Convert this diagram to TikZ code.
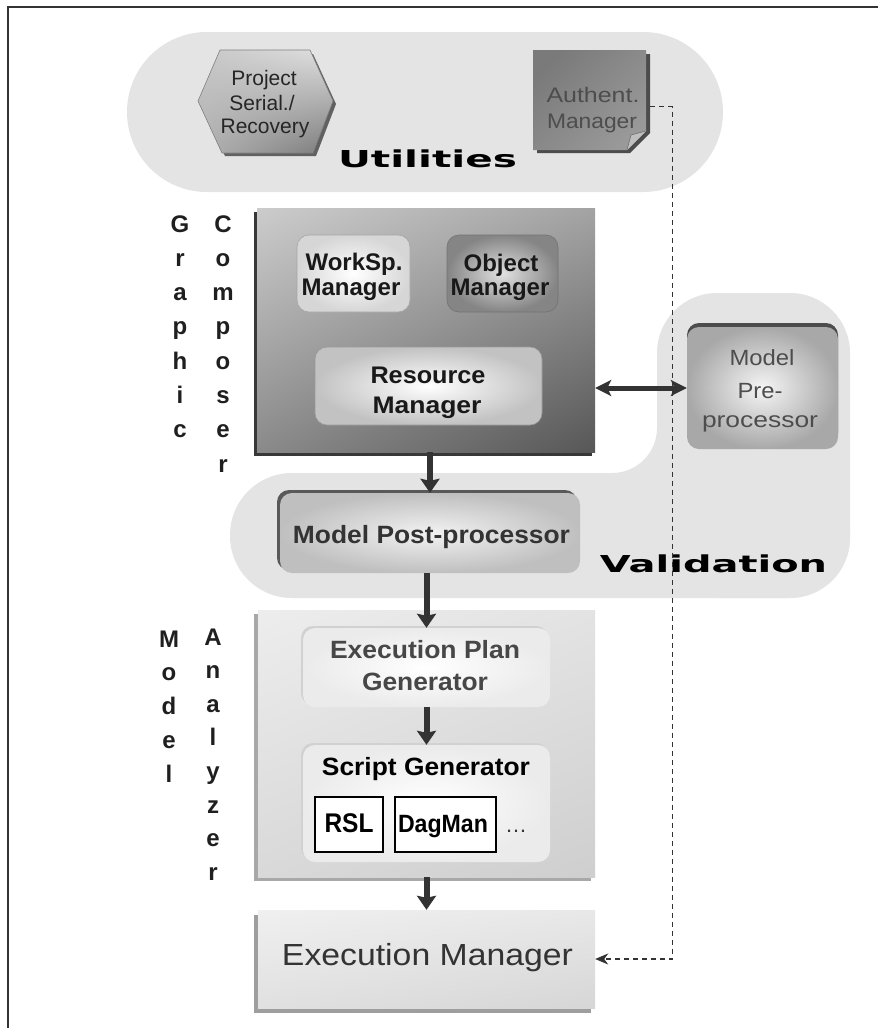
\documentclass[tikz,border=0pt]{standalone}
\usepackage{fontspec}
\setmainfont{Liberation Sans}
\newfontfamily\heavyfont{DejaVu Sans}
\usepackage{graphicx}
\usetikzlibrary{arrows.meta,shadows,shadings}

\definecolor{ink}{HTML}{333333}
\definecolor{band}{HTML}{E4E4E4}
\definecolor{softtext}{HTML}{4D4D4D}

% stretch a piece of text to a given width, keeping its height
\newcommand\wfit[2]{\resizebox{#1pt}{\height}{#2}}

\tikzset{
  txt/.style={inner sep=0pt, anchor=base},
  reg21/.style={txt, font=\fontsize{21pt}{24pt}\selectfont},
  reg22/.style={txt, font=\fontsize{22pt}{24pt}\selectfont, text=softtext},
  bold24/.style={txt, font=\fontsize{24pt}{24pt}\selectfont\bfseries, text=black!90},
  bold25/.style={txt, font=\fontsize{25pt}{25pt}\selectfont\bfseries},
  heavy/.style={txt, font=\heavyfont\fontsize{23.3pt}{24pt}\selectfont\bfseries, text=black},
  glyph/.style={txt, font=\fontsize{24pt}{24pt}\selectfont\bfseries, text=black!88},
  slot/.style={rectangle, inner sep=0pt},
  softbox/.style={slot, rounded corners=12pt, shade},
  flow/.style={draw=ink, line width=6pt, -{Stealth[length=14pt,width=19pt,inset=2pt]}},
  twoway/.style={draw=ink, line width=5pt, {Stealth[length=16pt,width=16pt,inset=4pt]}-{Stealth[length=16pt,width=16pt,inset=4pt]}},
  dashedlink/.style={draw=ink, line width=1.1pt, dash pattern=on 5pt off 4pt, -{Stealth[length=13pt,width=11pt,inset=4pt]}},
}

\begin{document}
\begin{tikzpicture}[x=1pt,y=-1pt]
\useasboundingbox (0,0) rectangle (878,1028);
\fill[white] (0,0) rectangle (878,1028);

% outer frame
\draw[ink, line width=2pt] (8,1028) -- (8,7) -- (878,7);

% ---------- background bands ----------
\fill[band, rounded corners=80pt] (127,32) rectangle (723,192);
\fill[band, rounded corners=62pt] (230,473) rectangle (850,598);
\fill[band, rounded corners=60pt] (657,293) rectangle (850,598);
\fill[band] (612,473) -- (657,473) -- (657,428) .. controls (657,453) and (637,473) .. (612,473) -- cycle;

% ---------- Utilities ----------
% hexagon
\fill[black!62] (201,104) -- (223,54) -- (313,54) -- (336,104) -- (316,156) -- (225,156) -- cycle;
\shade[upper left=black!22, upper right=black!12, lower left=black!30, lower right=black!52]
  (198,101) -- (220,50) -- (310,50) -- (333,101) -- (313,153) -- (222,153) -- cycle;
\draw[black!50, line width=0.6pt]
  (198,101) -- (220,50) -- (310,50) -- (333,101) -- (313,153) -- (222,153) -- cycle;
\node[reg21, text=black!85] (hexA) at (264,85) {Project};
\node[reg21, text=black!85] (hexB) at (262,110) {Serial./};
\node[reg21, text=black!85] (hexC) at (265,133) {Recovery};

% authentication sheet
\node[slot, minimum width=117pt, minimum height=103pt] (auth) at (591.5,101.5) {};
\fill[black!70] (537,54) -- (650,54) -- (650,133) -- (630,153) -- (537,153) -- cycle;
\shade[top color=black!52, middle color=black!17, bottom color=black!40, shading angle=45]
  (533,50) -- (646,50) -- (646,131) -- (627,150) -- (533,150) -- cycle;
\fill[black!25] (646,131) -- (627,150) -- (631,135) -- cycle;
\draw[black!60, line width=0.5pt] (646,131) -- (631,135) -- (627,150);
\node[reg21, text=softtext] (authA) at (593,102) {\wfit{93}{Authent.}};
\node[reg21, text=softtext] (authB) at (592,128) {\wfit{90}{Manager}};

\node[heavy] (utilities) at (427.5,167) {\wfit{179}{Utilities}};

% ---------- Graphic Composer ----------
\node[slot, shade, upper left=black!20, upper right=black!36, lower left=black!46, lower right=black!66,
      minimum width=338pt, minimum height=244pt,
      drop shadow={shadow xshift=-3pt, shadow yshift=-4pt, fill=black!78, opacity=1}] (comp) at (426,330) {};

\node[softbox, inner color=white, outer color=black!16, draw=black!35, line width=0.6pt,
      minimum width=113pt, minimum height=77pt] (ws) at (353.5,273.5) {};
\node[softbox, inner color=black!12, outer color=black!48, draw=black!55, line width=0.6pt,
      minimum width=111pt, minimum height=77pt] (obj) at (502.5,273.5) {};
\node[softbox, inner color=white, outer color=black!24, draw=black!40, line width=0.6pt,
      minimum width=227pt, minimum height=78pt] (res) at (428.5,386) {};

\node[bold24] (wsA) at (354,270) {WorkSp.};
\node[bold24] (wsB) at (351,295) {Manager};
\node[bold24] (objA) at (501,271) {Object};
\node[bold24] (objB) at (500,295) {Manager};
\node[bold24] (resA) at (428,383) {\wfit{115}{Resource}};
\node[bold24] (resB) at (427,413) {\wfit{109}{Manager}};

\foreach \ch [count=\k from 0] in {G,r,a,p,h,i,c}
  \node[glyph] (graphic\k) at (180,{232+34.3*\k}) {\ch};
\foreach \ch [count=\k from 0] in {C,o,m,p,o,s,e,r}
  \node[glyph] (composer\k) at (223,{232+34.3*\k}) {\ch};

% ---------- Validation ----------
\node[softbox, inner color=black!4, outer color=black!34,
      drop shadow={shadow xshift=0pt, shadow yshift=4pt, fill=black!70, opacity=1},
      minimum width=151pt, minimum height=122pt] (pre) at (762.5,388) {};
\node[reg22] (preA) at (762,365) {\wfit{65}{Model}};
\node[reg22] (preB) at (760,398) {\wfit{45}{Pre-}};
\node[reg22] (preC) at (760,427) {\wfit{116}{processor}};

\node[softbox, inner color=black!5, outer color=black!25,
      drop shadow={shadow xshift=-3pt, shadow yshift=3pt, fill=black!65, opacity=1},
      minimum width=300pt, minimum height=80pt] (post) at (430,533) {};
\node[bold25, text=ink] (postA) at (431.5,543) {\wfit{277}{Model Post-processor}};

\node[heavy] (validation) at (713.5,572) {\wfit{227}{Validation}};

% ---------- Model Analyzer ----------
\node[slot, shade, upper left=black!7, upper right=black!11, lower left=black!15, lower right=black!19,
      minimum width=337pt, minimum height=267pt,
      drop shadow={shadow xshift=-4pt, shadow yshift=-4pt, fill=black!34, opacity=1}] (ana) at (426.5,743.5) {};

\node[softbox, inner color=white, outer color=black!8,
      drop shadow={shadow xshift=-2pt, shadow yshift=2pt, fill=black!18, opacity=1},
      minimum width=247pt, minimum height=79pt] (epg) at (426.5,667.5) {};
\node[bold25, text=black!72] (epgA) at (425,658) {\wfit{190}{Execution Plan}};
\node[bold25, text=black!72] (epgB) at (425,690) {\wfit{126}{Generator}};

\node[softbox, inner color=white, outer color=black!8,
      drop shadow={shadow xshift=-2pt, shadow yshift=2pt, fill=black!18, opacity=1},
      minimum width=247pt, minimum height=117pt] (sg) at (426.5,803.5) {};
\node[bold25, text=black] (sgA) at (426,775) {\wfit{208}{Script Generator}};

\node[slot, draw=black, fill=white, line width=1.2pt, minimum width=68pt, minimum height=55pt] (rsl) at (349,824.5) {};
\node[slot, draw=black, fill=white, line width=1.2pt, minimum width=101pt, minimum height=55pt] (dag) at (445.5,824.5) {};
\node[bold25, font=\fontsize{27pt}{27pt}\selectfont\bfseries] (rslA) at (349,832) {\wfit{49}{RSL}};
\node[bold25] (dagA) at (443,832) {\wfit{90}{DagMan}};
\node[reg22, text=ink] (dots) at (516,832) {\dots};

\foreach \ch [count=\k from 0] in {M,o,d,e,l}
  \node[glyph] (model\k) at (169,{647+33.8*\k}) {\ch};
\foreach \ch [count=\k from 0] in {A,n,a,l,y,z,e,r}
  \node[glyph] (analyzer\k) at (213,{645+33.6*\k}) {\ch};

% ---------- Execution Manager ----------
\node[slot, shade, upper left=black!6, upper right=black!9, lower left=black!12, lower right=black!16,
      minimum width=337pt, minimum height=98pt,
      drop shadow={shadow xshift=-4pt, shadow yshift=-5pt, fill=black!38, opacity=1}] (em) at (426.5,959) {};
\node[txt, font=\fontsize{30.5pt}{31pt}\selectfont, text=ink] (emA) at (427.5,965) {\wfit{291}{Execution Manager}};

% ---------- connectors ----------
\draw[flow] (post.north |- comp.south) -- (post.north);
\draw[flow] (epg.north |- post.south) -- (epg.north);
\draw[flow] (epg.south) -- (sg.north);
\draw[flow] (em.north |- ana.south) -- (em.north);
\draw[twoway] (pre.west -| comp.east) -- (pre.west);
\draw[dashedlink] ([yshift=-5pt]auth.east) -- ++(22,0) |- (em.east);
\end{tikzpicture}
\end{document}
